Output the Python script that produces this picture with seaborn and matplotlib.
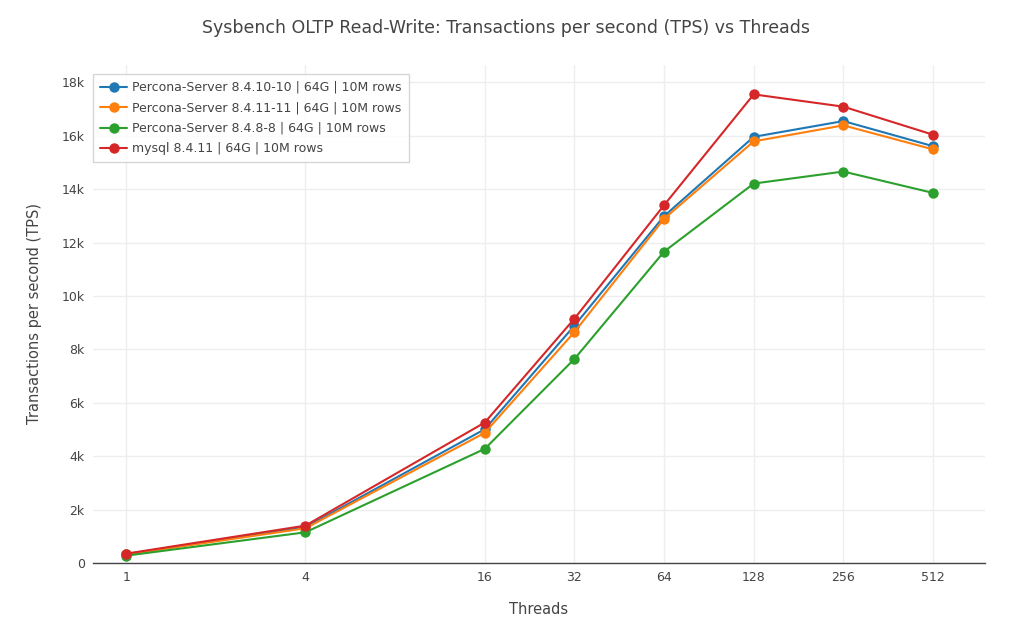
import pandas as pd
import numpy as np
import matplotlib
matplotlib.use("Agg")
from matplotlib import pyplot as plt
from matplotlib.ticker import FixedLocator, FuncFormatter
import seaborn as sns

threads = [1, 4, 16, 32, 64, 128, 256, 512]
series_names = [
    "Percona-Server 8.4.10-10 | 64G | 10M rows",
    "Percona-Server 8.4.11-11 | 64G | 10M rows",
    "Percona-Server 8.4.8-8 | 64G | 10M rows",
    "mysql 8.4.11 | 64G | 10M rows",
]
ps_8410 = [330, 1340, 5010, 8890, 12990, 15960, 16550, 15610]
ps_8411 = [320, 1300, 4875, 8650, 12890, 15790, 16390, 15490]
ps_848 = [275, 1150, 4275, 7640, 11660, 14210, 14660, 13860]
mysql_8411 = [350, 1400, 5260, 9150, 13400, 17550, 17090, 16040]
colors = ["#1f77b4", "#ff7f0e", "#2ca02c", "#d62728"]

rows = []
for name, vals in zip(series_names, [ps_8410, ps_8411, ps_848, mysql_8411]):
    for t, v in zip(threads, vals):
        rows.append({"Threads": t, "TPS": v, "series": name})
df = pd.DataFrame(rows)

sns.set_style("white")
plt.rcParams["font.family"] = ["DejaVu Sans"]
text_color = "#444444"

fig = plt.figure(figsize=(10.11, 6.24), dpi=100)
ax = fig.add_axes([93 / 1011, 1 - 563 / 624, (985 - 93) / 1011, (563 - 65) / 624])

sns.lineplot(data=df, x="Threads", y="TPS", hue="series", hue_order=series_names,
             palette=colors, marker="o", markersize=7.5, markeredgewidth=0,
             linewidth=1.5, ax=ax, zorder=3)

ax.set_xscale("log", base=2)
ax.set_xlim(2 ** -0.37, 512 * 2 ** 0.58)
ax.set_ylim(0, 18650)
ax.xaxis.set_major_locator(FixedLocator(threads))
ax.xaxis.set_minor_locator(FixedLocator([]))
ax.xaxis.set_major_formatter(FuncFormatter(lambda v, p: f"{int(round(v))}"))
ax.yaxis.set_major_locator(FixedLocator(range(0, 18001, 2000)))
ax.yaxis.set_major_formatter(FuncFormatter(lambda v, p: "0" if v == 0 else f"{int(v / 1000)}k"))

ax.grid(True, color="#eeeeee", linewidth=1)
ax.set_axisbelow(True)
for side in ["top", "right", "left"]:
    ax.spines[side].set_visible(False)
ax.spines["bottom"].set_color(text_color)
ax.spines["bottom"].set_linewidth(1)
ax.tick_params(axis="both", length=0, labelsize=9, labelcolor=text_color, pad=6)

ax.set_xlabel("Threads", fontsize=10.5, color=text_color, labelpad=13)
ax.set_ylabel("Transactions per second (TPS)", fontsize=10.5, color=text_color, labelpad=14)
fig.text(0.5, 1 - 28 / 624, "Sysbench OLTP Read-Write: Transactions per second (TPS) vs Threads",
         ha="center", va="center", fontsize=12.5, color=text_color)

leg = ax.legend(loc="upper left", bbox_to_anchor=(0.0, 1 - 9 / 498), fontsize=9,
                frameon=True, fancybox=False, borderpad=0.55, labelspacing=0.6,
                handlelength=2.2, handletextpad=0.4, borderaxespad=0)
leg.get_frame().set_edgecolor("#cccccc")
leg.get_frame().set_linewidth(1)
for t in leg.get_texts():
    t.set_color(text_color)

plt.savefig("out.png", dpi=100)
